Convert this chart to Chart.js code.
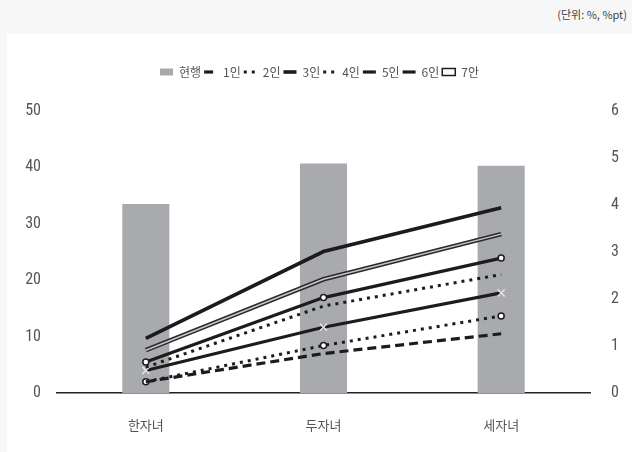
<!DOCTYPE html>
<html><head><meta charset="utf-8">
<script src="https://cdn.jsdelivr.net/npm/chart.js@4/dist/chart.umd.min.js"></script>
<style>
html,body{margin:0;padding:0;background:#f7f7f7;width:632px;height:452px;overflow:hidden;}
#panel{position:absolute;left:7px;top:34px;width:625px;height:418px;background:#fff;}
#unit{position:absolute;right:5px;top:6px;font:11px "Noto Sans CJK KR",sans-serif;color:#444;}
canvas{display:block;}
</style></head>
<body>
<div id="unit">(단위: %, %pt)</div>
<div id="panel"><canvas id="c" width="625" height="418"></canvas></div>
<script>
const categories = ['한자녀', '두자녀', '세자녀'];
const seriesNames = ['현행', '1인', '2인', '3인', '4인', '5인', '6인', '7안'];
const current = [33.5, 40.7, 40.3];
const p1 = [0.24, 0.84, 1.26];
const p2 = [0.55, 1.85, 2.52];
const p3 = [1.16, 3.01, 3.94];
const p4 = [0.24, 1.01, 1.64];
const p5 = [0.48, 1.40, 2.13];
const p6 = [0.66, 2.03, 2.87];
const p7 = [0.91, 2.42, 3.38];
const leftMax = 50, leftStep = 10;
const rightMax = 6, rightStep = 1;

const DARK = '#1c1c1c';
const tickFont = {family: '"Liberation Sans Narrow","Roboto Condensed","DejaVu Sans Condensed","Noto Sans CJK KR",sans-serif', size: 16};
const korFont = {family: '"Noto Sans CJK KR",sans-serif', size: 13};

function line(label, data, extra) {
  return Object.assign({
    type: 'line', label, data, yAxisID: 'y1', borderColor: DARK, backgroundColor: DARK,
    borderWidth: 3, tension: 0, pointRadius: 0, fill: false, order: 5
  }, extra);
}

const datasets = [
  {type: 'bar', label: seriesNames[0], data: current, yAxisID: 'y', backgroundColor: '#a9aaae',
   barPercentage: 0.265, categoryPercentage: 1, order: 10},
  line(seriesNames[1], p1, {borderDash: [9, 5], borderWidth: 3.2}),
  line(seriesNames[2], p2, {borderDash: [3, 5], borderWidth: 3}),
  line(seriesNames[3], p3, {borderWidth: 3.6}),
  line(seriesNames[4], p4, {borderDash: [3, 5], borderWidth: 3, pointRadius: 3, pointStyle: 'circle',
    pointBackgroundColor: '#fff', pointBorderColor: DARK, pointBorderWidth: 1.5}),
  line(seriesNames[5], p5, {borderWidth: 3.2, pointRadius: 5, pointStyle: 'crossRot',
    pointBorderColor: '#e4e4e4', pointBorderWidth: 1.5}),
  line(seriesNames[6], p6, {borderWidth: 3.2, pointRadius: 3, pointStyle: 'circle',
    pointBackgroundColor: '#fff', pointBorderColor: DARK, pointBorderWidth: 1.5}),
  line(seriesNames[7], p7, {borderWidth: 4.6, borderColor: '#2a2a2a'}),
  line('7안-inner', p7, {borderWidth: 1.4, borderColor: '#c8c8c8', order: 1, legendHidden: true})
];

const legendGap = {
  id: 'legendGap',
  afterInit(chart) {
    const lg = chart.legend;
    if (!lg) return;
    const orig = lg.fit.bind(lg);
    lg.fit = function () { orig(); this.height += 23; };
  }
};

new Chart(document.getElementById('c'), {
  data: {labels: categories, datasets},
  plugins: [legendGap],
  options: {
    responsive: false, animation: false,
    layout: {padding: {top: 29, left: 0, right: 0, bottom: 0}},
    plugins: {
      tooltip: {enabled: false},
      legend: {
        position: 'top', align: 'center',
        labels: {
          usePointStyle: true, pointStyleWidth: 13, boxHeight: 7, padding: 3,
          color: '#555', font: {family: '"Noto Sans CJK KR",sans-serif', size: 12},
          generateLabels(chart) {
            return chart.data.datasets.map((ds, i) => ({ds, i})).filter(o => !o.ds.legendHidden).map(({ds, i}) => {
              if (ds.type === 'bar') {
                return {text: ds.label, fillStyle: ds.backgroundColor, strokeStyle: ds.backgroundColor,
                  lineWidth: 0, pointStyle: 'rect', datasetIndex: i, fontColor: '#555'};
              }
              if (ds.label === '7안') {
                return {text: ds.label, fillStyle: '#fff', strokeStyle: DARK, lineWidth: 1.5,
                  pointStyle: 'rect', datasetIndex: i, fontColor: '#555'};
              }
              return {text: ds.label, fillStyle: DARK, strokeStyle: DARK, lineWidth: ds.borderWidth,
                lineDash: ds.borderDash || [], pointStyle: 'line', datasetIndex: i, fontColor: '#555'};
            });
          }
        }
      }
    },
    scales: {
      x: {
        grid: {display: false, drawTicks: false},
        border: {display: true, color: '#222', width: 1.5},
        ticks: {color: '#555', font: korFont, padding: 24},
        afterFit(s) { s.height = 59; }
      },
      y: {
        position: 'left', min: 0, max: leftMax,
        grid: {display: false, drawTicks: false}, border: {display: false},
        ticks: {stepSize: leftStep, color: '#555', font: tickFont, padding: 16},
        afterFit(s) { s.width = 50; }
      },
      y1: {
        position: 'right', min: 0, max: rightMax,
        grid: {display: false, drawTicks: false}, border: {display: false},
        ticks: {stepSize: rightStep, color: '#555', font: tickFont, padding: 21},
        afterFit(s) { s.width = 42; }
      }
    }
  }
});
</script>
</body></html>
